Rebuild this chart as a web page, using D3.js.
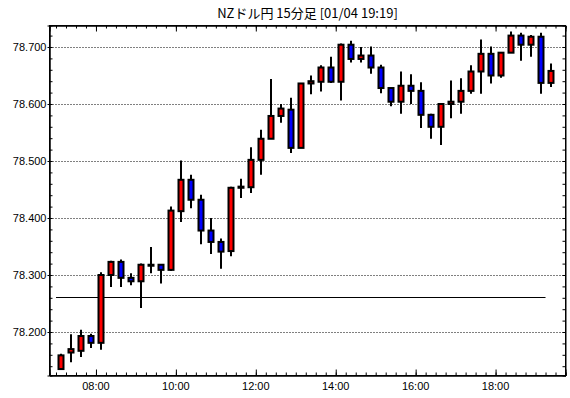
<!DOCTYPE html>
<html>
<head>
<meta charset="utf-8">
<script src="https://d3js.org/d3.v7.min.js"></script>
<style>
  body { margin: 0; background: #fff; }
  text { font-family: "Liberation Sans", Arial, sans-serif; font-size: 11px; fill: #000; }
  .title { font-family: "Noto Sans CJK JP", sans-serif; font-size: 13px; }
  .grid { stroke: #000; stroke-width: 1; stroke-dasharray: 1,2; }
  .wick { stroke: #000; stroke-width: 2; }
  .body { stroke: #000; stroke-width: 2; }
</style>
</head>
<body>
<svg width="570" height="398"></svg>
<script>
// 15分足 NZD/JPY
var times = ["07:00","07:15","07:30","07:45","08:00","08:15","08:30","08:45",
  "09:00","09:15","09:30","09:45","10:00","10:15","10:30","10:45",
  "11:00","11:15","11:30","11:45","12:00","12:15","12:30","12:45",
  "13:00","13:15","13:30","13:45","14:00","14:15","14:30","14:45",
  "15:00","15:15","15:30","15:45","16:00","16:15","16:30","16:45",
  "17:00","17:15","17:30","17:45","18:00","18:15","18:30","18:45",
  "19:00","19:15"];
var open = [78.135,78.164,78.167,78.193,78.181,78.300,78.323,78.295,
  78.289,78.318,78.318,78.309,78.412,78.467,78.432,78.378,
  78.358,78.342,78.453,78.454,78.502,78.539,78.579,78.590,
  78.523,78.636,78.639,78.664,78.639,78.704,78.679,78.685,
  78.664,78.628,78.604,78.632,78.623,78.581,78.560,78.600,
  78.604,78.623,78.657,78.688,78.650,78.690,78.720,78.704,
  78.718,78.637];
var high = [78.162,78.196,78.204,78.197,78.305,78.325,78.327,78.303,
  78.320,78.349,78.318,78.420,78.501,78.476,78.441,78.400,
  78.364,78.455,78.469,78.524,78.555,78.644,78.600,78.611,
  78.636,78.650,78.668,78.683,78.706,78.711,78.700,78.701,
  78.669,78.628,78.657,78.652,78.638,78.583,78.600,78.641,
  78.645,78.668,78.713,78.701,78.690,78.727,78.725,78.721,
  78.725,78.671];
var low = [78.135,78.147,78.156,78.172,78.169,78.279,78.279,78.282,
  78.242,78.303,78.285,78.307,78.393,78.417,78.354,78.337,
  78.311,78.333,78.435,78.444,78.476,78.539,78.567,78.514,
  78.523,78.617,78.622,78.637,78.606,78.673,78.673,78.653,
  78.619,78.596,78.583,78.600,78.558,78.539,78.528,78.575,
  78.583,78.618,78.618,78.636,78.646,78.690,78.676,78.683,
  78.618,78.630];
var close = [78.159,78.170,78.193,78.181,78.300,78.323,78.295,78.289,
  78.318,78.318,78.309,78.413,78.467,78.432,78.378,78.358,
  78.341,78.453,78.455,78.502,78.539,78.579,78.592,78.523,
  78.636,78.640,78.664,78.639,78.704,78.679,78.685,78.664,
  78.628,78.604,78.632,78.623,78.581,78.560,78.600,78.604,
  78.623,78.657,78.688,78.650,78.690,78.720,78.704,78.718,
  78.637,78.658];
var yTicks = [78.2, 78.3, 78.4, 78.5, 78.6, 78.7];
var xLabels = ["08:00","10:00","12:00","14:00","16:00","18:00"];
var level = 78.262, levelFrom = "07:00", levelTo = "19:15";

function hrs(s) { var p = s.split(":"); return +p[0] + p[1] / 60; }

var svg = d3.select("svg");
var pLeft = 49.5, pRight = 565.5, pTop = 25.5, pBottom = 375.5;

var x = d3.scaleLinear().domain([6.8375, 19.75]).range([pLeft, pRight]);
var y = d3.scaleLinear().domain([78.1237, 78.7377]).range([pBottom, pTop]);

svg.append("rect").attr("width", 570).attr("height", 398).attr("fill", "#fff");

svg.append("text").attr("class", "title")
  .attr("x", (pLeft + pRight) / 2).attr("y", 18)
  .attr("text-anchor", "middle")
  .text("NZドル円 15分足 [01/04 19:19]");

// grid
svg.append("g").selectAll("line").data(yTicks).enter().append("line")
  .attr("class", "grid")
  .attr("x1", pLeft).attr("x2", pRight)
  .attr("y1", function(d) { return Math.round(y(d)) + 0.5; })
  .attr("y2", function(d) { return Math.round(y(d)) + 0.5; });

// y axes, left & right, inner ticks
var minorY = d3.range(78.14, 78.74, 0.02);
svg.append("g").attr("transform", "translate(" + pLeft + ",0)")
  .call(d3.axisRight(y).tickValues(minorY).tickSize(3).tickFormat(""));
svg.append("g").attr("transform", "translate(" + pRight + ",0)")
  .call(d3.axisLeft(y).tickValues(minorY).tickSize(3).tickFormat(""));
svg.append("g").attr("transform", "translate(" + pLeft + ",0)")
  .call(d3.axisLeft(y).tickValues(yTicks).tickSize(2).tickPadding(1).tickFormat(d3.format(".3f")));

// x axes, top & bottom
var minorX = d3.range(7, 19.76, 0.25);
var majorX = xLabels.map(hrs);
svg.append("g").attr("transform", "translate(0," + pBottom + ")")
  .call(d3.axisTop(x).tickValues(minorX).tickSize(3).tickFormat(""));
svg.append("g").attr("transform", "translate(0," + pTop + ")")
  .call(d3.axisBottom(x).tickValues(minorX).tickSize(3).tickFormat(""));
svg.append("g").attr("transform", "translate(0," + pBottom + ")")
  .call(d3.axisTop(x).tickValues(majorX).tickSize(6).tickFormat(""));
svg.append("g").attr("transform", "translate(0," + pTop + ")")
  .call(d3.axisBottom(x).tickValues(majorX).tickSize(6).tickFormat(""));
svg.append("g").selectAll("text").data(xLabels).enter().append("text")
  .attr("x", function(d) { return x(hrs(d)); })
  .attr("y", 390)
  .attr("text-anchor", "middle")
  .text(function(d) { return d; });

svg.selectAll(".domain").attr("stroke", "#000");
svg.selectAll(".tick line").attr("stroke", "#000");
svg.selectAll(".tick text").style("font-size", "11px").style("font-family", "Liberation Sans, Arial, sans-serif");

// frame
svg.append("rect").attr("x", pLeft).attr("y", pTop)
  .attr("width", pRight - pLeft).attr("height", pBottom - pTop)
  .attr("fill", "none").attr("stroke", "#000");

// level line
svg.append("line")
  .attr("x1", x(hrs(levelFrom))).attr("x2", x(hrs(levelTo)))
  .attr("y1", Math.round(y(level)) + 0.5).attr("y2", Math.round(y(level)) + 0.5)
  .attr("stroke", "#000").attr("stroke-width", 1);

// candles
var data = times.map(function(t, i) {
  return { t: hrs(t) + 0.125, o: open[i], h: high[i], l: low[i], c: close[i] };
});
var g = svg.append("g");
var cx = function(d) { return Math.round(x(d.t)); };
g.selectAll(".wick").data(data).enter().append("line")
  .attr("class", "wick")
  .attr("x1", cx).attr("x2", cx)
  .attr("y1", function(d) { return y(d.h); })
  .attr("y2", function(d) { return y(d.l); });
g.selectAll(".body").data(data).enter().append("rect")
  .attr("class", "body")
  .attr("x", function(d) { return cx(d) - 2.5; })
  .attr("width", 5)
  .attr("y", function(d) { return y(Math.max(d.o, d.c)); })
  .attr("height", function(d) { return Math.max(1, Math.abs(y(d.o) - y(d.c))); })
  .attr("fill", function(d) { return d.c >= d.o ? "#ff0000" : "#0000ff"; });
</script>
</body>
</html>
